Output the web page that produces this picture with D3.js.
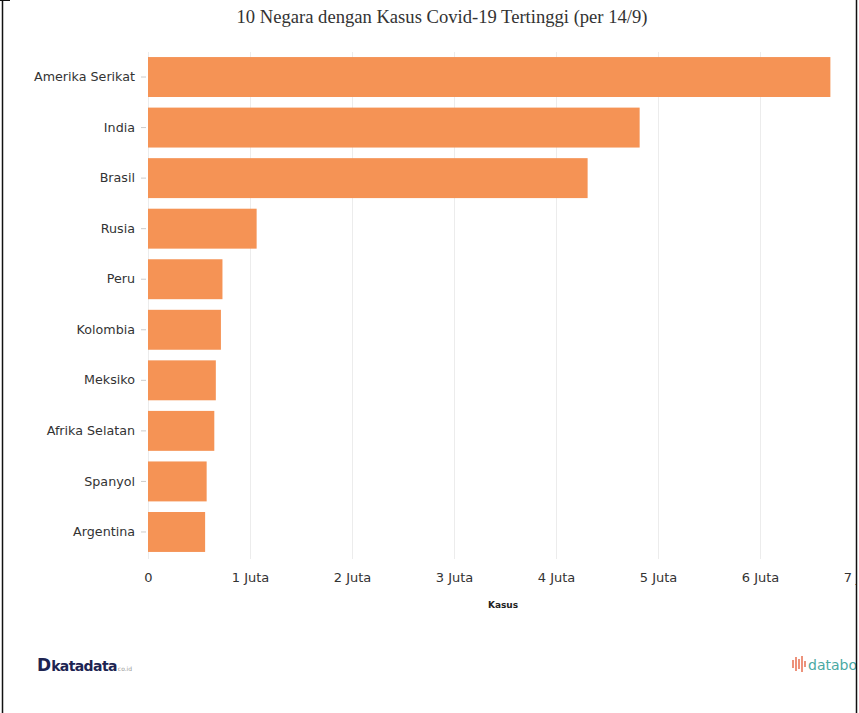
<!DOCTYPE html>
<html><head><meta charset="utf-8">
<script src="https://cdn.jsdelivr.net/npm/d3@7"></script>
<style>html,body{margin:0;padding:0;background:#fff;overflow:hidden}</style>
</head><body>
<script>
const categories = ["Amerika Serikat","India","Brasil","Rusia","Peru","Kolombia","Meksiko","Afrika Selatan","Spanyol","Argentina"];
const values = [6690000, 4820000, 4310000, 1065000, 730000, 715000, 665000, 650000, 575000, 560000];
const tickValues = [0,1000000,2000000,3000000,4000000,5000000,6000000,7000000];
const tickLabels = ["0","1 Juta","2 Juta","3 Juta","4 Juta","5 Juta","6 Juta","7 Juta"];
const title = "10 Negara dengan Kasus Covid-19 Tertinggi (per 14/9)";
const xTitle = "Kasus";

const W = 859, H = 713;
const svg = d3.select("body").append("svg").attr("width", W).attr("height", H);
svg.append("defs").append("clipPath").attr("id","clip")
  .append("rect").attr("x",0).attr("y",0).attr("width",856).attr("height",H);
const g0 = svg.append("g").attr("clip-path","url(#clip)");

const x = d3.scaleLinear().domain([0,7000000]).range([148, 862]);
const y = d3.scaleBand().domain(categories).range([52, 557]).paddingInner(0.21).paddingOuter(0.1);

// gridlines
g0.append("g").selectAll("line").data(tickValues).join("line")
  .attr("x1", d=>x(d)+0.5).attr("x2", d=>x(d)+0.5)
  .attr("y1", 52).attr("y2", 559)
  .attr("stroke", "#ececec").attr("stroke-width", 1);

// bars
g0.append("g").selectAll("rect").data(categories).join("rect")
  .attr("x", x(0)).attr("y", d=>y(d))
  .attr("width", (d,i)=>x(values[i])-x(0))
  .attr("height", y.bandwidth())
  .attr("fill", "#f58f50").attr("fill-opacity", 0.97);

// y axis
const yAxis = g0.append("g").attr("transform", `translate(${x(0)},0)`)
  .call(d3.axisLeft(y).tickSize(5).tickPadding(6));
yAxis.select(".domain").remove();
yAxis.selectAll(".tick line").attr("stroke", "#ccc").attr("transform","translate(-2,0)");
yAxis.selectAll(".tick text").attr("fill", "#333").style("font-family","DejaVu Sans, sans-serif").style("font-size","12.7px").attr("dx","-2");

// x axis
const xAxis = g0.append("g").attr("transform", `translate(0,573)`)
  .call(d3.axisBottom(x).tickValues(tickValues).tickFormat((d,i)=>tickLabels[i]).tickSize(0).tickPadding(0));
xAxis.select(".domain").remove();
xAxis.selectAll(".tick text").attr("fill", "#333").style("font-family","DejaVu Sans, sans-serif").style("font-size","13px").attr("dy","0.71em");

g0.append("text").attr("x", 503).attr("y", 608).attr("text-anchor","middle")
  .style("font-family","DejaVu Sans, sans-serif").style("font-size","9px").style("font-weight","bold").attr("fill","#222").text(xTitle);

// title
g0.append("text").attr("x", 442).attr("y", 23).attr("text-anchor","middle")
  .style("font-family","Liberation Serif, serif").style("font-size","18.6px").attr("fill","#333").text(title);

// logos
const kd = g0.append("text").attr("x", 37).attr("y", 671)
  .style("font-family","DejaVu Sans, sans-serif").attr("fill","#1d2452");
kd.append("tspan").style("font-size","17px").style("font-weight","bold").text("D");
kd.append("tspan").style("font-size","14px").style("font-weight","bold").attr("dx","0").attr("letter-spacing","-0.6").text("katadata");
kd.append("tspan").style("font-size","6px").attr("fill","#999").attr("dx","1").text("co.id");

const ic = g0.append("g").attr("transform","translate(797,664)");
[[-4,4],[-1,7],[2,5],[5,8],[8,3]].forEach(([dx,h])=>{
  ic.append("line").attr("x1",dx).attr("x2",dx).attr("y1",-h).attr("y2",h).attr("stroke","#e9775a").attr("stroke-width",1.6);
});
g0.append("text").attr("x", 808).attr("y", 670)
  .style("font-family","DejaVu Sans, sans-serif").style("font-size","14px").attr("fill","#4aa9a3").text("databoks");

// border
svg.append("line").attr("x1",2.5).attr("x2",2.5).attr("y1",0).attr("y2",H).attr("stroke","#111").attr("stroke-width",1.5);
svg.append("line").attr("x1",0).attr("x2",10).attr("y1",0.5).attr("y2",0.5).attr("stroke","#111").attr("stroke-width",1);
svg.append("line").attr("x1",856.5).attr("x2",856.5).attr("y1",0).attr("y2",H).attr("stroke","#111").attr("stroke-width",1.5);
</script>
</body></html>
